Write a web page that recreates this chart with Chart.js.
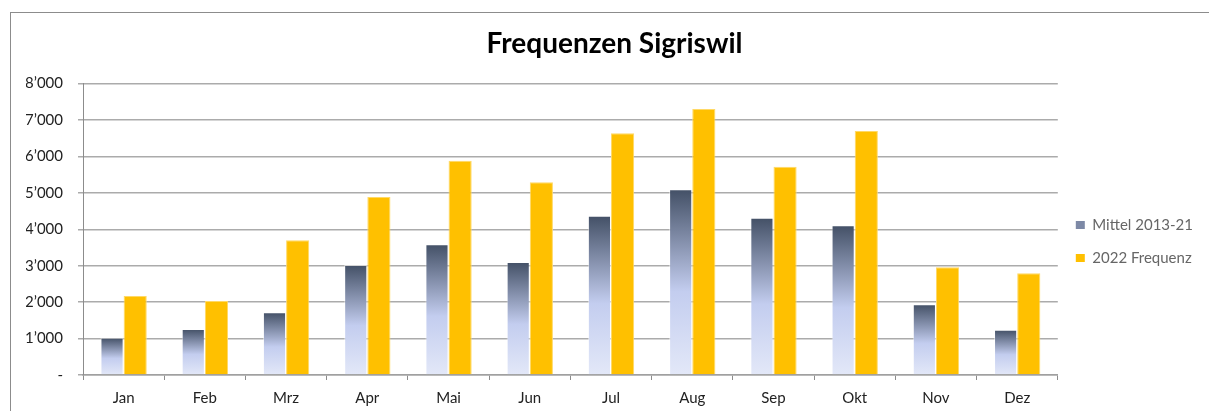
<!DOCTYPE html>
<html lang="de">
<head>
  <meta charset="UTF-8" />
  <title>Frequenzen Sigriswil</title>
  <script src="https://cdn.jsdelivr.net/npm/chart.js"></script>
  <style>
    html, body { margin: 0; padding: 0; background: #fff; overflow: hidden; }
    #wrap { position: relative; width: 1209px; height: 411px; }
    #frame {
      position: absolute; left: 10px; top: 12px; width: 1220px; height: 420px;
      border: 1px solid #8c8c8c; pointer-events: none;
    }
  </style>
</head>
<body>
  <div id="wrap">
    <canvas id="chart" width="1209" height="411"></canvas>
    <div id="frame"></div>
  </div>

  <script>
    const months = ["Jan", "Feb", "Mrz", "Apr", "Mai", "Jun", "Jul", "Aug", "Sep", "Okt", "Nov", "Dez"];
    const mittel = [1020, 1260, 1720, 3020, 3590, 3100, 4370, 5100, 4320, 4110, 1940, 1240];
    const freq2022 = [2170, 2030, 3700, 4890, 5880, 5290, 6640, 7300, 5720, 6700, 2960, 2790];
    const yTickLabels = ["-", "1’000", "2’000", "3’000", "4’000", "5’000", "6’000", "7’000", "8’000"];

    const font = "Lato, 'Open Sans', sans-serif";

    // each grey bar gets its own gradient, dark on top, light at the base
    function barGradient(c) {
      const chart = c.chart;
      if (!chart.chartArea || c.parsed == null) return "#8a97b5";
      const y = chart.scales.y;
      const top = y.getPixelForValue(c.parsed.y);
      const base = y.getPixelForValue(0);
      const g = chart.ctx.createLinearGradient(0, top, 0, base);
      g.addColorStop(0, "#435066");
      g.addColorStop(0.55, "#c3cdef");
      g.addColorStop(1, "#e3e8f8");
      return g;
    }

    new Chart(document.getElementById("chart"), {
      type: "bar",
      data: {
        labels: months,
        datasets: [{
          label: "Mittel 2013-21",
          data: mittel,
          backgroundColor: barGradient,
          borderColor: "rgba(255,255,255,0.5)",
          borderWidth: 1
        }, {
          label: "2022 Frequenz",
          data: freq2022,
          backgroundColor: "#ffc000",
          borderColor: "#ffd966",
          borderWidth: 1
        }]
      },
      options: {
        responsive: false,
        animation: false,
        layout: { padding: { left: 26, right: 6, top: 0, bottom: 0 } },
        datasets: { bar: { barPercentage: 1, categoryPercentage: 0.57 } },
        plugins: {
          title: {
            display: true,
            text: "Frequenzen Sigriswil",
            color: "#000",
            font: { family: font, size: 28, weight: "bold" },
            padding: { top: 27, bottom: 23 }
          },
          legend: {
            position: "right",
            // empty title only pushes the two entries down to where they sit in the original
            title: { display: true, text: " ", font: { size: 1 }, padding: { top: 71, bottom: 0 } },
            labels: {
              color: "#222",
              font: { family: font, size: 15 },
              boxWidth: 9,
              boxHeight: 8,
              padding: 18,
              generateLabels: chart => chart.data.datasets.map((d, i) => ({
                text: d.label,
                fillStyle: i === 0 ? "#7d89a6" : "#ffc000",
                strokeStyle: "transparent",
                lineWidth: 0,
                datasetIndex: i
              }))
            }
          },
          tooltip: { enabled: false }
        },
        scales: {
          x: {
            afterFit: s => { s.height = 36; },
            grid: {
              offset: true,
              drawOnChartArea: false,
              tickLength: 5,
              color: "#8c8c8c"
            },
            border: { color: "#a0a0a0", width: 1.5 },
            ticks: { color: "#222", font: { family: font, size: 15 }, padding: 9 }
          },
          y: {
            min: 0,
            max: 8000,
            afterFit: s => { s.width = 57; },
            grid: { color: "#ababab", lineWidth: 1.5, tickLength: 5 },
            border: { color: "#8c8c8c", width: 1 },
            ticks: {
              stepSize: 1000,
              color: "#222",
              padding: 15,
              font: { family: font, size: 15 },
              callback: v => yTickLabels[Math.round(v / 1000)]
            }
          }
        }
      }
    });
  </script>
</body>
</html>
